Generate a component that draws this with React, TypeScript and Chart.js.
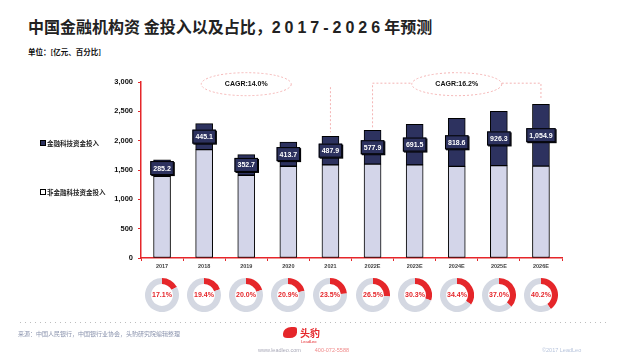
import React, { useEffect, useRef } from 'react';
import { Chart, registerables } from 'chart.js';
Chart.register(...registerables);

const years = ['2017', '2018', '2019', '2020', '2021', '2022E', '2023E', '2024E', '2025E', '2026E'];
const fintech = [285.2, 445.1, 352.7, 413.7, 487.9, 577.9, 691.5, 818.6, 926.3, 1054.9];
const nonFintech = [1390, 1846, 1410, 1564, 1586, 1599, 1588, 1563, 1575, 1566];
const shares = [17.1, 19.4, 20.0, 20.9, 23.5, 26.5, 30.3, 34.4, 37.0, 40.2];
const shareLabels = ['17.1%', '19.4%', '20.0%', '20.9%', '23.5%', '26.5%', '30.3%', '34.4%', '37.0%', '40.2%'];
const seriesNames = ['金融科技资金投入', '非金融科技资金投入'];
const cagrLabels = ['CAGR:14.0%', 'CAGR:16.2%'];

const NAVY = '#2d325f';
const LIGHT = '#d3d5e9';
const RED = '#e5262a';
const PINK = '#f4b4b4';

const annotPlugin = {
  id: 'annot',
  afterDatasetsDraw(chart: any) {
    const ctx = chart.ctx as CanvasRenderingContext2D;
    const xs = chart.scales.x;
    const ys = chart.scales.y;
    const meta = chart.getDatasetMeta(1);
    ctx.save();
    ctx.strokeStyle = PINK;
    ctx.lineWidth = 1;
    ctx.setLineDash([2, 2]);
    const topY = ys.getPixelForValue(2980);
    const e1x = xs.getPixelForValue(2);
    const l1x = xs.getPixelForValue(4);
    const b4 = meta.data[4];
    ctx.beginPath();
    ctx.moveTo(l1x, topY + 4);
    ctx.lineTo(l1x, b4.y - 4);
    ctx.stroke();
    ctx.beginPath();
    ctx.ellipse(e1x, topY + 1, 45, 11.5, 0, 0, Math.PI * 2);
    ctx.stroke();
    const e2x = xs.getPixelForValue(7);
    const a = xs.getPixelForValue(5);
    const b = xs.getPixelForValue(9);
    const hy = topY;
    ctx.beginPath();
    ctx.moveTo(a, meta.data[5].y - 3);
    ctx.lineTo(a, hy);
    ctx.lineTo(e2x - 45, hy);
    ctx.moveTo(e2x + 45, hy);
    ctx.lineTo(b, hy);
    ctx.lineTo(b, meta.data[9].y - 4);
    ctx.stroke();
    ctx.beginPath();
    ctx.ellipse(e2x, topY + 1, 45, 11.5, 0, 0, Math.PI * 2);
    ctx.stroke();
    ctx.setLineDash([]);
    ctx.fillStyle = '#111';
    ctx.font = 'bold 7px "Liberation Sans", Arial, sans-serif';
    ctx.textAlign = 'center';
    ctx.textBaseline = 'middle';
    ctx.fillText(cagrLabels[0], e1x, topY + 1);
    ctx.fillText(cagrLabels[1], e2x, topY + 1);

    ctx.font = 'bold 7px "Liberation Sans", Arial, sans-serif';
    meta.data.forEach((el: any, i: number) => {
      const txt = fintech[i].toLocaleString('en-US', { minimumFractionDigits: 1, maximumFractionDigits: 1 });
      const w = ctx.measureText(txt).width + 6;
      const h = 14;
      const cx = el.x;
      const cy = (el.y + el.base) / 2;
      ctx.fillStyle = '#000';
      ctx.fillRect(cx - w / 2 + 1, cy - h / 2 + 1, w, h);
      ctx.fillStyle = NAVY;
      ctx.fillRect(cx - w / 2, cy - h / 2, w, h);
      ctx.strokeStyle = '#000';
      ctx.lineWidth = 1;
      ctx.strokeRect(cx - w / 2 + 0.5, cy - h / 2 + 0.5, w - 1, h - 1);
      ctx.fillStyle = '#fff';
      ctx.fillText(txt, cx, cy + 0.5);
    });
    ctx.restore();
  },
};

const donutText = {
  id: 'donutText',
  afterDraw(chart: any) {
    const ctx = chart.ctx as CanvasRenderingContext2D;
    const { left, right, top, bottom } = chart.chartArea;
    ctx.save();
    ctx.fillStyle = RED;
    ctx.font = 'bold 7px "Liberation Sans", Arial, sans-serif';
    ctx.textAlign = 'center';
    ctx.textBaseline = 'middle';
    ctx.fillText(chart.options.plugins.donutText.label, (left + right) / 2, (top + bottom) / 2 + 0.5);
    ctx.restore();
  },
};

export default function App() {
  const mainRef = useRef<HTMLCanvasElement>(null);
  const donutRefs = useRef<(HTMLCanvasElement | null)[]>([]);

  useEffect(() => {
    const charts: Chart[] = [];
    const main = new Chart(mainRef.current!, {
      type: 'bar',
      data: {
        labels: years,
        datasets: [
          {
            label: seriesNames[1],
            data: nonFintech,
            backgroundColor: LIGHT,
            borderColor: '#000',
            borderWidth: 1,
            borderSkipped: false,
            barThickness: 17,
          },
          {
            label: seriesNames[0],
            data: fintech,
            backgroundColor: NAVY,
            borderColor: '#000',
            borderWidth: 1,
            borderSkipped: false,
            barThickness: 17,
          },
        ],
      },
      options: {
        responsive: false,
        animation: false,
        layout: { padding: { left: 101, right: 67, top: 82, bottom: 86 } },
        plugins: { legend: { display: false }, tooltip: { enabled: false } },
        scales: {
          x: {
            stacked: true,
            grid: { drawOnChartArea: false, drawTicks: true, tickLength: 3, color: RED, offset: true },
            border: { color: RED, width: 1.5 },
            ticks: {
              color: '#444',
              font: { size: 5.5, family: '"Liberation Sans", Arial, sans-serif', weight: 'bold' },
              padding: 2,
              maxRotation: 0,
            },
            afterFit: (s: any) => { s.height = 16; },
          },
          y: {
            stacked: true,
            min: 0,
            max: 3000,
            grid: { drawOnChartArea: false, drawTicks: true, tickLength: 3, color: RED },
            border: { color: RED, width: 1.5 },
            ticks: {
              stepSize: 500,
              color: '#111',
              padding: 5,
              font: { size: 7.5, family: '"Liberation Sans", Arial, sans-serif', weight: 'bold' },
              callback: (v: any) => Number(v).toLocaleString('en-US'),
            },
            afterFit: (s: any) => { s.width = 40; },
          },
        },
      },
      plugins: [annotPlugin],
    });
    charts.push(main);
    const xs = main.scales.x;
    donutRefs.current.forEach((cv, i) => {
      if (!cv) return;
      const cx = xs.getPixelForValue(i);
      cv.style.left = `${cx - 17}px`;
      cv.style.top = `${295 - 17}px`;
      charts.push(
        new Chart(cv, {
          type: 'doughnut',
          data: {
            labels: ['share', 'rest'],
            datasets: [{ data: [shares[i], 100 - shares[i]], backgroundColor: [RED, '#d4d8e2'], borderWidth: 0 }],
          },
          options: {
            responsive: false,
            animation: false,
            cutout: '64%',
            plugins: { legend: { display: false }, tooltip: { enabled: false }, donutText: { label: shareLabels[i] } } as any,
          },
          plugins: [donutText],
        })
      );
    });
    return () => charts.forEach((c) => c.destroy());
  }, []);

  const font = '"Liberation Sans", "Noto Sans CJK SC", Arial, sans-serif';
  const cjk = '"Noto Sans CJK SC", "Liberation Sans", sans-serif';

  return (
    <div style={{ position: 'absolute', left: 0, top: 0, width: 629, height: 360, background: '#fff', overflow: 'hidden' }}>
      <div style={{ position: 'absolute', left: 28, top: 16, fontFamily: cjk, fontWeight: 'bold', fontSize: 16, lineHeight: '20px', color: '#222', whiteSpace: 'nowrap' }}>
        中国金融机构资 金投入以及占比，<span style={{ fontFamily: font, letterSpacing: 4 }}>2017-2026</span>年预测
      </div>
      <div style={{ position: 'absolute', left: 28, top: 47, fontFamily: cjk, fontWeight: 'bold', fontSize: 7.5, lineHeight: '10px', color: '#111', whiteSpace: 'nowrap' }}>
        单位：[亿元、百分比]
      </div>
      <canvas ref={mainRef} width={629} height={360} style={{ position: 'absolute', left: 0, top: 0 }} />
      <div style={{ position: 'absolute', left: 40, top: 138, fontFamily: cjk, fontWeight: 'bold', fontSize: 6.5, lineHeight: '10px', color: '#222', whiteSpace: 'nowrap', display: 'flex', alignItems: 'center' }}>
        <span style={{ display: 'inline-block', width: 4, height: 4, background: NAVY, border: '1px solid #000', marginRight: 1 }} />
        {seriesNames[0]}
      </div>
      <div style={{ position: 'absolute', left: 40, top: 187, fontFamily: cjk, fontWeight: 'bold', fontSize: 6.5, lineHeight: '10px', color: '#222', whiteSpace: 'nowrap', display: 'flex', alignItems: 'center' }}>
        <span style={{ display: 'inline-block', width: 4, height: 4, background: '#fff', border: '1px solid #000', marginRight: 1 }} />
        {seriesNames[1]}
      </div>
      {years.map((y, i) => (
        <canvas
          key={y}
          ref={(el) => { donutRefs.current[i] = el; }}
          width={34}
          height={34}
          style={{ position: 'absolute', left: 0, top: 0 }}
        />
      ))}
      <div style={{ position: 'absolute', left: 20, top: 322, width: 590, height: 1, backgroundImage: 'linear-gradient(to right, #bdbdbd 1px, transparent 1px)', backgroundSize: '5px 1px' }} />
      <div style={{ position: 'absolute', left: 18, top: 330, fontFamily: cjk, fontSize: 6, lineHeight: '8px', color: '#8a93ad', whiteSpace: 'nowrap' }}>
        来源：中国人民银行，中国银行业协会，头豹研究院编辑整理
      </div>
      <div style={{ position: 'absolute', left: 283, top: 327, width: 14, height: 11, background: RED, borderRadius: '60% 20% 50% 30%' }} />
      <div style={{ position: 'absolute', left: 300, top: 327, fontFamily: cjk, fontWeight: 'bold', fontSize: 10, lineHeight: '11px', color: RED, whiteSpace: 'nowrap' }}>
        头豹
      </div>
      <div style={{ position: 'absolute', left: 301, top: 339, fontFamily: font, fontSize: 4, lineHeight: '5px', color: RED, whiteSpace: 'nowrap' }}>
        LeadLeo
      </div>
      <div style={{ position: 'absolute', left: 258, top: 347, fontFamily: font, fontSize: 5.5, lineHeight: '7px', color: '#c0392b', whiteSpace: 'nowrap' }}>
        <span style={{ color: '#a9a9b8' }}>www.leadleo.com</span>
        <span style={{ color: '#f08a8a', marginLeft: 14 }}>400-072-5588</span>
      </div>
      <div style={{ position: 'absolute', left: 542, top: 347, fontFamily: font, fontSize: 5.5, lineHeight: '7px', color: '#b7c4dc', whiteSpace: 'nowrap' }}>
        ©2017 LeadLeo
      </div>
    </div>
  );
}
